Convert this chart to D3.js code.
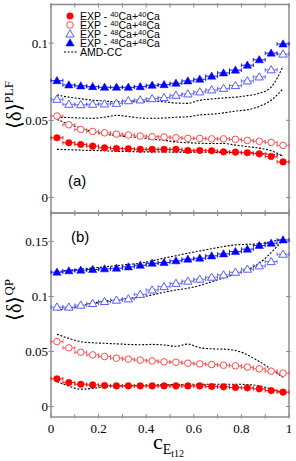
<!DOCTYPE html>
<html>
<head>
<meta charset="utf-8">
<script src="https://cdn.jsdelivr.net/npm/d3@7"></script>
<style>
  body { margin: 0; background: #fff; }
  svg { display: block; }
  .tick-label { font-family: "Liberation Serif", serif; font-size: 13px; fill: #000; }
</style>
</head>
<body>
<div id="chart"></div>
<script>
/**
 * DATA
 * */
// bin centres on the x axis (width 0.05)
const binCenters = [0.025, 0.075, 0.125, 0.175, 0.225, 0.275, 0.325, 0.375, 0.425, 0.475,
  0.525, 0.575, 0.625, 0.675, 0.725, 0.775, 0.825, 0.875, 0.925, 0.975];
const binHalfWidth = 0.025;

// panel (a): <delta>^PLF
const plf_40_40 = [0.0387, 0.0355, 0.0344, 0.0333, 0.0322, 0.0318, 0.0316, 0.0312, 0.0312, 0.0312,
  0.0312, 0.0305, 0.0305, 0.0303, 0.0296, 0.0294, 0.0290, 0.0283, 0.0266, 0.0231];
const plf_40_48 = [0.0528, 0.0471, 0.0441, 0.0428, 0.0419, 0.0411, 0.0405, 0.0398, 0.0394, 0.0392,
  0.0387, 0.0383, 0.0383, 0.0380, 0.0380, 0.0377, 0.0370, 0.0364, 0.0357, 0.0338];
const plf_48_40 = [0.0636, 0.0604, 0.0601, 0.0604, 0.0606, 0.0610, 0.0627, 0.0632, 0.0640, 0.0647,
  0.0662, 0.0671, 0.0684, 0.0697, 0.0707, 0.0725, 0.0755, 0.0781, 0.0827, 0.0929];
const plf_48_48 = [0.0757, 0.0729, 0.0723, 0.0718, 0.0714, 0.0714, 0.0714, 0.0718, 0.0727, 0.0731,
  0.0740, 0.0755, 0.0766, 0.0786, 0.0807, 0.0825, 0.0857, 0.0892, 0.0935, 0.0994];
const plfAmd_40_40 = [0.0312, 0.0310, 0.0307, 0.0305, 0.0303, 0.0300, 0.0298, 0.0296, 0.0296, 0.0295,
  0.0294, 0.0294, 0.0294, 0.0293, 0.0292, 0.0292, 0.0290, 0.0285, 0.0280, 0.0272];
const plfAmd_40_48 = [0.0506, 0.0475, 0.0450, 0.0426, 0.0410, 0.0402, 0.0394, 0.0387, 0.0378, 0.0370,
  0.0360, 0.0355, 0.0352, 0.0350, 0.0350, 0.0340, 0.0330, 0.0320, 0.0303, 0.0268];
const plfAmd_48_48 = [0.0520, 0.0518, 0.0515, 0.0513, 0.0520, 0.0532, 0.0525, 0.0515, 0.0513, 0.0515,
  0.0520, 0.0523, 0.0535, 0.0540, 0.0548, 0.0560, 0.0568, 0.0590, 0.0630, 0.0705];
const plfAmd_48_40 = [0.0664, 0.0650, 0.0640, 0.0630, 0.0625, 0.0620, 0.0620, 0.0622, 0.0625, 0.0620,
  0.0612, 0.0610, 0.0630, 0.0638, 0.0645, 0.0650, 0.0660, 0.0675, 0.0715, 0.0850];

// panel (b): <delta>^QP
const qp_40_40 = [0.0252, 0.0218, 0.0203, 0.0197, 0.0191, 0.0188, 0.0188, 0.0188, 0.0188, 0.0188,
  0.0188, 0.0188, 0.0188, 0.0182, 0.0179, 0.0173, 0.0170, 0.0161, 0.0145, 0.0131];
const qp_40_48 = [0.0591, 0.0534, 0.0494, 0.0470, 0.0455, 0.0440, 0.0431, 0.0422, 0.0415, 0.0406,
  0.0403, 0.0394, 0.0388, 0.0382, 0.0376, 0.0370, 0.0358, 0.0343, 0.0322, 0.0304];
const qp_48_40 = [0.0904, 0.0904, 0.0922, 0.0937, 0.0955, 0.0967, 0.0979, 0.1020, 0.1060, 0.1090,
  0.1120, 0.1140, 0.1158, 0.1176, 0.1197, 0.1221, 0.1249, 0.1279, 0.1318, 0.1385];
const qp_48_48 = [0.1222, 0.1234, 0.1240, 0.1246, 0.1252, 0.1258, 0.1270, 0.1285, 0.1303, 0.1309,
  0.1325, 0.1340, 0.1349, 0.1370, 0.1388, 0.1409, 0.1431, 0.1464, 0.1485, 0.1515];
const qpAmd_40_40 = [0.0227, 0.0185, 0.0158, 0.0165, 0.0180, 0.0185, 0.0190, 0.0192, 0.0195, 0.0198,
  0.0200, 0.0202, 0.0203, 0.0203, 0.0203, 0.0203, 0.0200, 0.0188, 0.0160, 0.0127];
const qpAmd_40_48 = [0.0658, 0.0620, 0.0590, 0.0580, 0.0575, 0.0570, 0.0565, 0.0562, 0.0565, 0.0560,
  0.0548, 0.0568, 0.0535, 0.0525, 0.0522, 0.0510, 0.0470, 0.0410, 0.0340, 0.0265];
const qpAmd_48_40 = [0.0879, 0.0890, 0.0915, 0.0940, 0.0960, 0.0970, 0.0985, 0.0994, 0.1015, 0.1040,
  0.1060, 0.1076, 0.1100, 0.1135, 0.1170, 0.1206, 0.1245, 0.1303, 0.1400, 0.1515];
const qpAmd_48_48 = [0.1227, 0.1238, 0.1250, 0.1260, 0.1270, 0.1282, 0.1292, 0.1303, 0.1325, 0.1350,
  0.1372, 0.1394, 0.1415, 0.1435, 0.1455, 0.1470, 0.1475, 0.1479, 0.1500, 0.1521];

// tick values
const xMinorTicks = [0, 0.1, 0.2, 0.3, 0.4, 0.5, 0.6, 0.7, 0.8, 0.9, 1];
const xLabelTicks = [0, 0.2, 0.4, 0.6, 0.8, 1];
const yTicksA = [0, 0.05, 0.1];
const yTicksB = [0, 0.05, 0.1, 0.15];

const legendLabels = [
  ["EXP - ", "40", "Ca+", "40", "Ca"],
  ["EXP - ", "40", "Ca+", "48", "Ca"],
  ["EXP - ", "48", "Ca+", "40", "Ca"],
  ["EXP - ", "48", "Ca+", "48", "Ca"]
];

/**
 * CONSTANTS
 * */
const width = 296, height = 461;
const margin = { left: 51, right: 6 };
const panelA = { top: 4.5, bottom: 213 };
const panelB = { top: 213, bottom: 417 };
const axisColor = "#8c8c8c";

const RED = "#ff0000", RED_OPEN = "#ff4a4a", BLUE = "#0000ff", BLUE_OPEN = "#5a5aff";

// style of every series
const styles = {
  "40_40": { fill: true, shape: "circle", color: RED },
  "40_48": { fill: false, shape: "circle", color: RED_OPEN },
  "48_40": { fill: false, shape: "triangle", color: BLUE_OPEN },
  "48_48": { fill: true, shape: "triangle", color: BLUE }
};

const svg = d3.select("#chart").append("svg")
  .attr("width", width)
  .attr("height", height);

const xScale = d3.scaleLinear()
  .domain([0, 1])
  .range([margin.left, width - margin.right - 1]);

const yA = d3.scaleLinear().domain([-0.01, 0.125]).range([panelA.bottom, panelA.top]);
const yB = d3.scaleLinear().domain([-0.0095, 0.176]).range([panelB.bottom, panelB.top]);

const line = y => d3.line().x(d => xScale(d[0])).y(d => y(d[1]));

function drawPanel(y, top, bottom, yTicks, showXLabels) {
  const g = svg.append("g");
  const x0 = xScale.range()[0], x1 = xScale.range()[1];

  // ticks on bottom / top edges
  xMinorTicks.forEach(t => {
    g.append("line").attr("x1", xScale(t)).attr("x2", xScale(t))
      .attr("y1", bottom - 3).attr("y2", bottom + 1.5)
      .attr("stroke", axisColor).attr("stroke-width", 1);
    g.append("line").attr("x1", xScale(t)).attr("x2", xScale(t))
      .attr("y1", top - 1.5).attr("y2", top + 3)
      .attr("stroke", axisColor).attr("stroke-width", 1);
  });
  // y ticks left/right
  yTicks.forEach(t => {
    g.append("line").attr("x1", x0 - 2.5).attr("x2", x0 + 3)
      .attr("y1", y(t)).attr("y2", y(t))
      .attr("stroke", axisColor).attr("stroke-width", 1);
    g.append("line").attr("x1", x1 - 3).attr("x2", x1 + 1.5)
      .attr("y1", y(t)).attr("y2", y(t))
      .attr("stroke", axisColor).attr("stroke-width", 1);
    g.append("text").attr("class", "tick-label")
      .attr("x", x0 - 3).attr("y", y(t) + 4.5)
      .attr("text-anchor", "end")
      .text(t === 0 ? "0" : d3.format("")(t));
  });
  // frame
  g.append("rect").attr("x", x0).attr("y", top)
    .attr("width", x1 - x0).attr("height", bottom - top)
    .attr("fill", "none").attr("stroke", axisColor).attr("stroke-width", 1.5);

  if (showXLabels) {
    xLabelTicks.forEach(t => {
      g.append("text").attr("class", "tick-label")
        .attr("x", xScale(t)).attr("y", bottom + 16)
        .attr("text-anchor", "middle")
        .text(t === 0 ? "0" : d3.format("")(t));
    });
  }
  return g;
}

function drawSeries(g, y, values, key) {
  const st = styles[key];
  const pts = binCenters.map((c, i) => [c, values[i]]);
  const s = g.append("g");
  // horizontal error bars with caps
  pts.forEach(p => {
    const xa = xScale(p[0] - binHalfWidth), xb = xScale(p[0] + binHalfWidth), yy = y(p[1]);
    s.append("line").attr("x1", xa).attr("x2", xb).attr("y1", yy).attr("y2", yy)
      .attr("stroke", st.color).attr("stroke-width", 0.9);
    [xa, xb].forEach(xx => s.append("line").attr("x1", xx).attr("x2", xx)
      .attr("y1", yy - 1.8).attr("y2", yy + 1.8)
      .attr("stroke", st.color).attr("stroke-width", 0.9));
  });
  const sym = st.shape === "circle" ? d3.symbolCircle : d3.symbolTriangle;
  const size = st.shape === "circle" ? 34 : 30;
  s.selectAll("path.m").data(pts).join("path")
    .attr("class", "m")
    .attr("transform", d => `translate(${xScale(d[0])},${y(d[1]) + (st.shape === "triangle" ? 0.6 : 0)})`)
    .attr("d", d3.symbol().type(sym).size(size))
    .attr("fill", st.fill ? st.color : "#fff")
    .attr("stroke", st.color)
    .attr("stroke-width", st.fill ? 0.5 : 1);
}

function drawAmd(g, y, values) {
  const pts = binCenters.map((c, i) => [c, values[i]]);
  g.append("path")
    .datum(pts)
    .attr("d", line(y).curve(d3.curveMonotoneX))
    .attr("fill", "none")
    .attr("stroke", "#000")
    .attr("stroke-width", 1.1)
    .attr("stroke-dasharray", "2,1.6");
}

/**
 * PANEL (a)
 * */
const gA = drawPanel(yA, panelA.top, panelA.bottom, yTicksA, false);
[plfAmd_40_40, plfAmd_40_48, plfAmd_48_40, plfAmd_48_48].forEach(v => drawAmd(gA, yA, v));
drawSeries(gA, yA, plf_40_40, "40_40");
drawSeries(gA, yA, plf_40_48, "40_48");
drawSeries(gA, yA, plf_48_40, "48_40");
drawSeries(gA, yA, plf_48_48, "48_48");

/**
 * PANEL (b)
 * */
const gB = drawPanel(yB, panelB.top, panelB.bottom, yTicksB, true);
[qpAmd_40_40, qpAmd_40_48, qpAmd_48_40, qpAmd_48_48].forEach(v => drawAmd(gB, yB, v));
drawSeries(gB, yB, qp_40_40, "40_40");
drawSeries(gB, yB, qp_40_48, "40_48");
drawSeries(gB, yB, qp_48_40, "48_40");
drawSeries(gB, yB, qp_48_48, "48_48");

// panel labels
svg.append("text").attr("x", 68).attr("y", 186)
  .attr("font-family", "Liberation Sans, Arial, sans-serif").attr("font-size", 15)
  .text("(a)");
svg.append("text").attr("x", 71).attr("y", 242)
  .attr("font-family", "Liberation Sans, Arial, sans-serif").attr("font-size", 15)
  .text("(b)");

/**
 * LEGEND
 * */
const legend = svg.append("g")
  .attr("font-family", "Liberation Sans, Arial, sans-serif")
  .attr("font-size", 10.5);
const legendKeys = ["40_40", "40_48", "48_40", "48_48"];
legendKeys.forEach((k, i) => {
  const st = styles[k];
  const yy = 16 + i * 9;
  legend.append("path")
    .attr("transform", `translate(70,${yy + (st.shape === "triangle" ? 0.6 : 0)})`)
    .attr("d", d3.symbol().type(st.shape === "circle" ? d3.symbolCircle : d3.symbolTriangle).size(st.shape === "circle" ? 34 : 30))
    .attr("fill", st.fill ? st.color : "#fff")
    .attr("stroke", st.color)
    .attr("stroke-width", st.fill ? 0.5 : 1);
  const t = legend.append("text").attr("x", 80).attr("y", yy + 4);
  legendLabels[i].forEach((part, j) => {
    const sup = j === 1 || j === 3;
    t.append("tspan")
      .attr("font-size", sup ? 7.5 : 10.5)
      .attr("baseline-shift", sup ? "3.5" : null)
      .text(part);
  });
});
legend.append("line")
  .attr("x1", 64).attr("x2", 78).attr("y1", 52).attr("y2", 52)
  .attr("stroke", "#000").attr("stroke-width", 1.1).attr("stroke-dasharray", "2,1.6");
legend.append("text").attr("x", 80).attr("y", 56).text("AMD-CC");

/**
 * AXIS TITLES
 * */
function yTitle(cx, cy, sup) {
  const t = svg.append("text")
    .attr("transform", `translate(${cx},${cy}) rotate(-90)`)
    .attr("font-family", "Liberation Serif, serif")
    .attr("font-size", 20)
    .attr("text-anchor", "middle");
  t.append("tspan").text("\u27E8\u03B4\u27E9");
  t.append("tspan").attr("font-size", 13).attr("dy", -8).text(sup);
}
yTitle(21, 105, "PLF");
yTitle(21, 300, "QP");

const xt = svg.append("text")
  .attr("x", 153).attr("y", 449)
  .attr("font-family", "Liberation Serif, serif")
  .attr("font-size", 22);
xt.append("tspan").text("c");
xt.append("tspan").attr("font-size", 14).attr("dy", 5).text("E");
xt.append("tspan").attr("font-size", 10).attr("dy", 3).text("t12");
</script>
</body>
</html>
